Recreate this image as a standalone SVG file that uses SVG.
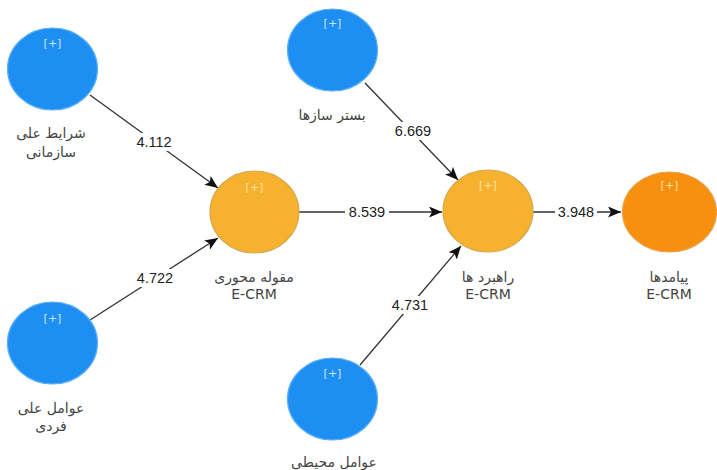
<svg xmlns="http://www.w3.org/2000/svg" width="717" height="470" viewBox="0 0 717 470">
<defs>
<marker id="arr" viewBox="0 0 13 11" refX="13" refY="5.5" markerWidth="13" markerHeight="11" markerUnits="userSpaceOnUse" orient="auto">
<path d="M0,0 L13,5.5 L0,11 L3,5.5 z" fill="#111"/>
</marker>
<style>
.blue{fill:#1E8FF2;stroke:#5AAEF5;stroke-width:1.2}
.yel{fill:#F6B22F;stroke:#D6A850;stroke-width:1.2}
.org{fill:#F7900F;stroke:#E6A24A;stroke-width:1.2}
.plus{font-family:"DejaVu Sans",sans-serif;font-size:11px;text-anchor:middle}
.pb{fill:#CFE6FF}
.py{fill:#FBE2A6}
.lbl{font-family:"DejaVu Sans","Liberation Sans",sans-serif;font-size:14px;fill:#444;text-anchor:middle}
.num{font-family:"Liberation Sans",Arial,sans-serif;font-size:14.5px;fill:#222;text-anchor:middle}
.edge{stroke:#333;stroke-width:1.3;fill:none}
.bg{fill:#fff}
</style>
</defs>
<rect width="717" height="470" fill="#fff"/>
<g id="connectors">
<line class="edge" x1="90" y1="95" x2="218" y2="188" marker-end="url(#arr)"/>
<line class="edge" x1="90" y1="320" x2="218" y2="238" marker-end="url(#arr)"/>
<line class="edge" x1="299" y1="212" x2="442" y2="212" marker-end="url(#arr)"/>
<line class="edge" x1="365" y1="83" x2="458" y2="180" marker-end="url(#arr)"/>
<line class="edge" x1="360" y1="365" x2="461" y2="246" marker-end="url(#arr)"/>
<line class="edge" x1="533" y1="212" x2="621" y2="212" marker-end="url(#arr)"/>
<rect class="bg" x="132" y="133" width="44" height="18"/>
<text class="num" x="154" y="147">4.112</text>
<rect class="bg" x="133" y="269" width="44" height="18"/>
<text class="num" x="155" y="283">4.722</text>
<rect class="bg" x="345" y="203" width="44" height="18"/>
<text class="num" x="367" y="217">8.539</text>
<rect class="bg" x="391" y="122" width="44" height="18"/>
<text class="num" x="413" y="136">6.669</text>
<rect class="bg" x="388" y="296" width="44" height="18"/>
<text class="num" x="410" y="310">4.731</text>
<rect class="bg" x="555" y="203" width="42" height="18"/>
<text class="num" x="576" y="217">3.948</text>
</g>
<g id="n_sharayet">
<ellipse class="blue" cx="52.5" cy="69" rx="45" ry="41"/>
<text class="plus pb" x="52.5" y="47">[+]</text>
<text class="lbl" x="51" y="138">شرایط علی</text>
<text class="lbl" x="51" y="157">سازمانی</text>
</g>
<g id="n_avamel_fardi">
<ellipse class="blue" cx="52.5" cy="343" rx="45" ry="41"/>
<text class="plus pb" x="52.5" y="322">[+]</text>
<text class="lbl" x="51" y="413">عوامل علی</text>
<text class="lbl" x="51" y="431">فردی</text>
</g>
<g id="n_maghule">
<ellipse class="yel" cx="254.5" cy="212" rx="44.5" ry="41"/>
<text class="plus py" x="254.5" y="191">[+]</text>
<text class="lbl" x="254" y="282">مقوله محوری</text>
<text class="lbl" x="254" y="299">E-CRM</text>
</g>
<g id="n_bastar">
<ellipse class="blue" cx="332.5" cy="50" rx="45" ry="41"/>
<text class="plus pb" x="332.5" y="27">[+]</text>
<text class="lbl" x="332" y="120">بستر سازها</text>
</g>
<g id="n_rahbord">
<ellipse class="yel" cx="488" cy="211" rx="45" ry="41"/>
<text class="plus py" x="488" y="189">[+]</text>
<text class="lbl" x="488" y="282">راهبرد ها</text>
<text class="lbl" x="488" y="299">E-CRM</text>
</g>
<g id="n_mohiti">
<ellipse class="blue" cx="332.5" cy="399" rx="45" ry="41"/>
<text class="plus pb" x="332.5" y="377">[+]</text>
<text class="lbl" x="334" y="467">عوامل محیطی</text>
</g>
<g id="n_payamad">
<ellipse class="org" cx="669.5" cy="212" rx="47" ry="40"/>
<text class="plus py" x="669.5" y="189">[+]</text>
<text class="lbl" x="669" y="282">پیامدها</text>
<text class="lbl" x="669" y="299">E-CRM</text>
</g>
</svg>
